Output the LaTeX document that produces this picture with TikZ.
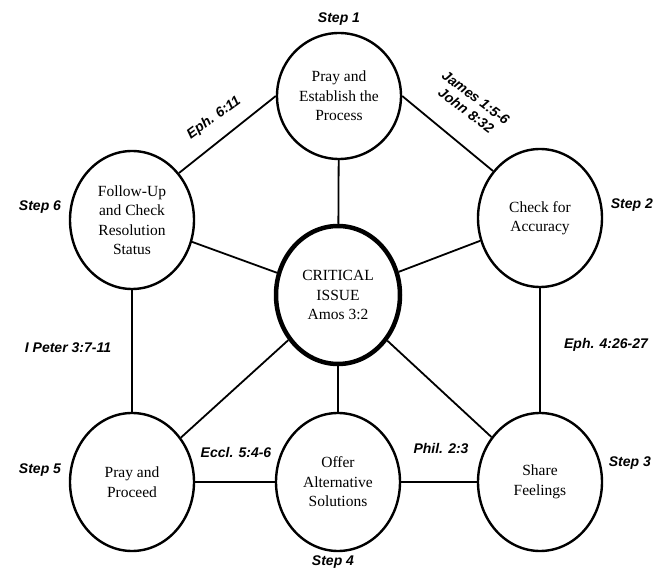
\documentclass[tikz,border=0pt]{standalone}
\usepackage{fontspec}
\setmainfont{Liberation Serif}
\newfontfamily\versefont{Liberation Sans}
\usetikzlibrary{automata, shapes.geometric, positioning}

\begin{document}
\begin{tikzpicture}[
            x = 1pt, y = -1pt, % pixel grid, y pointing down
            line width = 1.8pt, % connector lines
            node distance = 5pt, % distance of step labels
            font = \fontsize{15.5}{19.5}\selectfont
        ]

        \tikzstyle{every state}=[
            draw = black,
            line width = 2.4pt,
            fill = white,
            ellipse,
            inner sep = 0pt,
            align = center,
            minimum width = 124pt,
            minimum height = 138pt
        ]
        \tikzstyle{steplabel}=[
            inner sep = 0pt,
            font = \versefont\bfseries\itshape\fontsize{14}{16}\selectfont
        ]
        \tikzstyle{verse}=[steplabel, align = center]

        \useasboundingbox (0,0) rectangle (654,572);

        \node[state] (v0) [line width = 4.5pt] at (338,295) {CRITICAL\\ISSUE\\Amos 3:2};
        \node[state] (v1) [minimum height = 126pt] at (339,96) {Pray and\\Establish the\\Process};
        \node[state] (v2) at (540,218) {Check for\\Accuracy};
        \node[state] (v3) at (540,482) {Share\\Feelings};
        \node[state] (v4) at (338,482) {Offer\\Alternative\\Solutions};
        \node[state] (v5) at (132,482) {Pray and\\Proceed};
        \node[state] (v6) at (132,220) {Follow-Up\\and Check\\Resolution\\Status};

        \node[steplabel] (s1) [above = of v1] {Step 1};
        \node[steplabel, anchor = west] (s2) at (610,205) {Step 2};
        \node[steplabel, anchor = west] (s3) at (608,463) {Step 3};
        \node[steplabel] (s4) at (333,562) {Step 4};
        \node[steplabel] (s5) at (40,470) {Step 5};
        \node[steplabel] (s6) at (40,207) {Step 6};

        \node[verse, rotate = 36] (r1) at (214,118) {Eph. 6:11};
        \node[verse, rotate = -37] (r2) at (471,104) {James 1:5-6\\John 8:32};
        \node[verse] (r3) at (606,345) {Eph. 4:26-27};
        \node[verse] (r4) at (441,448) {Phil. 2:3};
        \node[verse] (r5) at (236,452) {Eccl. 5:4-6};
        \node[verse] (r6) at (68,348) {I Peter 3:7-11};

        \draw (v1) edge (v0);
        \draw (v1.west) edge (v6.45);
        \draw (v1.east) edge (v2.135);
        \draw (v2) edge (v0);
        \draw (v6) edge (v0);
        \draw (v2) edge (v3);
        \draw (v6) edge (v5);
        \draw (v5) edge (v0);
        \draw (v3) edge (v0);
        \draw (v4) edge (v0);
        \draw (v5) edge (v4);
        \draw (v4) edge (v3);
    \end{tikzpicture}
\end{document}
